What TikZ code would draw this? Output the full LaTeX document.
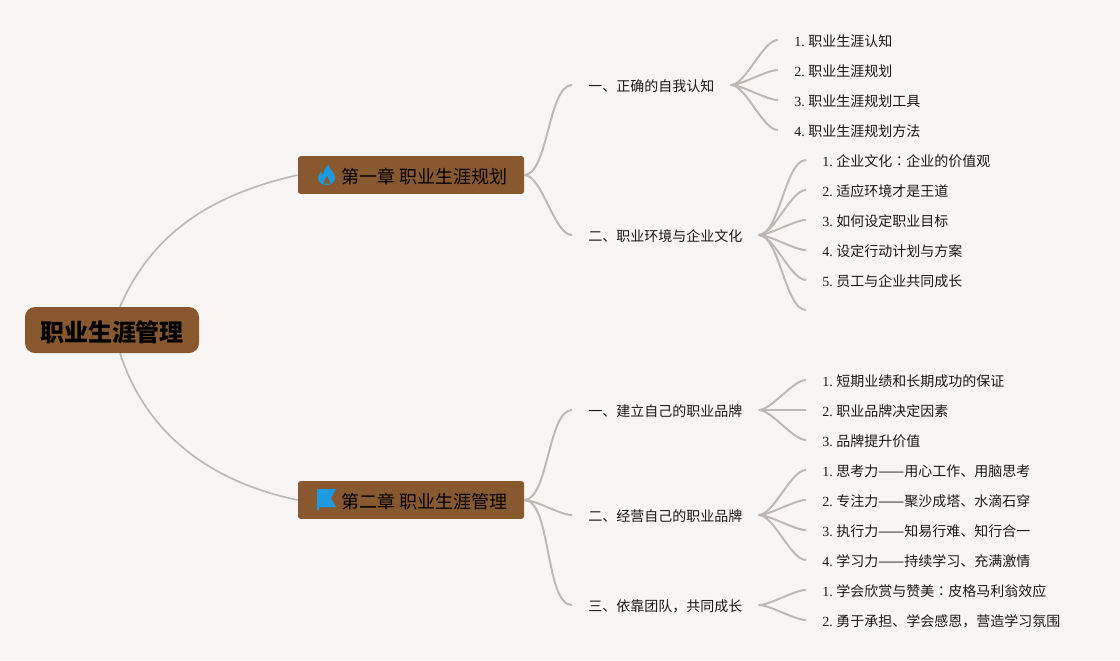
\documentclass[tikz,border=0pt]{standalone}
\usepackage{xcolor}
\usepackage{fontspec}
\setmainfont{Liberation Serif}
\newfontfamily\cjk{Noto Sans CJK SC}
\newfontfamily\cjkjp{Noto Sans CJK JP}
\definecolor{bgpaper}{HTML}{F8F6F4}
\definecolor{barkbrown}{HTML}{88582F}
\definecolor{linkgray}{HTML}{BDB8B3}
\definecolor{iconblue}{HTML}{1C9BE0}
\newcommand{\dashpair}{\makebox[1.86em]{\scalebox{1.12}[1]{——}}}
\frenchspacing

\begin{document}
\begin{tikzpicture}[
            rootnode/.style={rectangle, rounded corners=0.25cm, fill=barkbrown, minimum width=4.35cm,
            minimum height=1.15cm, inner sep=0pt, text height=18pt, text depth=2.2pt,
            font=\cjk\bfseries\fontsize{17.07pt}{20pt}\selectfont},
            chapter/.style={rectangle, rounded corners=0.06cm, fill=barkbrown, minimum width=5.65cm,
            minimum height=0.94cm, inner sep=0pt, text height=14pt, text depth=2.5pt,
            font=\cjk\fontsize{12.8pt}{15pt}\selectfont},
            section/.style={anchor=west, inner xsep=0.4cm, inner ysep=2pt, text=black!90,
            text height=11pt, text depth=2pt, font=\cjk\fontsize{9.96pt}{12pt}\selectfont},
            leaf/.style={anchor=west, inner xsep=0.4cm, inner ysep=2pt, text=black!90,
            text height=11pt, text depth=2pt, font=\fontsize{9.96pt}{12pt}\selectfont},
            link/.style={draw=linkgray, line width=1.4pt, out=0, in=180, looseness=0.6},
            rootlink/.style={draw=linkgray, line width=1.2pt},
        ]

            \fill[bgpaper] (0,0) rectangle (28,-16.5);

            %% Root and chapters
            \node[rootnode] (root) at (2.8,-8.25) {职业生涯管理};
            \node[chapter] (ch1) at (10.275,-4.375) {\hspace{0.675cm}第一章 职业生涯规划};
            \node[chapter] (ch2) at (10.275,-12.5) {\hspace{0.675cm}第二章 职业生涯管理};
            \draw[rootlink] ([xshift=0.2cm]root.north) .. controls (3.9,-5.6) and (5.6,-4.8) .. (ch1.west);
            \draw[rootlink] ([xshift=0.2cm]root.south) .. controls (3.75,-11.125) and (5.625,-12.125) .. (ch2.west);

            %% Icons
            \begin{scope}[shift={(7.95,-4.125)}, x=0.025cm, y=-0.025cm]
                \fill[iconblue] (10.5,0) .. controls (11,4) and (17,8) .. (17,13)
                    .. controls (17,17) and (13,20) .. (8.5,20)
                    .. controls (4,20) and (0,17) .. (0,13)
                    .. controls (0,11) and (2,8) .. (3,6.5)
                    .. controls (4,8) and (4.5,9) .. (5.5,9.5)
                    .. controls (5.5,6) and (7,2) .. (10.5,0) -- cycle;
                \fill[barkbrown] (9,11) .. controls (10,14) and (12.5,15) .. (12,18.5)
                    -- (6,18.5) .. controls (5,16) and (7.5,14) .. (9,11) -- cycle;
            \end{scope}
            \fill[iconblue] (7.925,-12.225) -- (8.4,-12.225) -- (8.275,-12.45) -- (8.4,-12.675)
                -- (7.975,-12.675) -- (7.975,-12.75) -- (7.925,-12.75) -- cycle;

            %% Chapter 1
            \node[section] (s1) at (14.3,-2.125) {一、正确的自我认知};
            \node[section] (s2) at (14.3,-5.875) {二、职业环境与企业文化};
            \foreach \sec in {s1,s2} {
                \draw[link] (ch1.east) to (\sec.west);
            }
            \foreach \row/\txt in {0/职业生涯认知,1/职业生涯规划,2/职业生涯规划工具,3/职业生涯规划方法} {
                \pgfmathtruncatemacro{\num}{\row+1}
                \node[leaf] (a\row) at (19.45,-1-\row*0.75) {\num. {\cjk\txt}};
                \draw[link] (s1.east) to (a\row.west);
            }
            \foreach \row/\txt in {0/企业文化{\cjkjp：}企业的价值观,1/适应环境才是王道,2/如何设定职业目标,3/设定行动计划与方案,4/员工与企业共同成长} {
                \pgfmathtruncatemacro{\num}{\row+1}
                \node[leaf] (b\row) at (20.15,-4-\row*0.75) {\num. {\cjk\txt}};
                \draw[link] (s2.east) to (b\row.west);
            }
            \coordinate (bend) at (20.15,-7.75);
            \draw[link] (s2.east) to (bend);

            %% Chapter 2
            \node[section] (s3) at (14.3,-10.25) {一、建立自己的职业品牌};
            \node[section] (s4) at (14.3,-12.875) {二、经营自己的职业品牌};
            \node[section] (s5) at (14.3,-15.125) {三、依靠团队，共同成长};
            \foreach \sec in {s3,s4,s5} {
                \draw[link] (ch2.east) to (\sec.west);
            }
            \foreach \row/\txt in {0/短期业绩和长期成功的保证,1/职业品牌决定因素,2/品牌提升价值} {
                \pgfmathtruncatemacro{\num}{\row+1}
                \node[leaf] (c\row) at (20.15,-9.5-\row*0.75) {\num. {\cjk\txt}};
                \draw[link] (s3.east) to (c\row.west);
            }
            \foreach \row/\txt in {0/思考力\dashpair 用心工作、用脑思考,1/专注力\dashpair 聚沙成塔、水滴石穿,2/执行力\dashpair 知易行难、知行合一,3/学习力\dashpair 持续学习、充满激情} {
                \pgfmathtruncatemacro{\num}{\row+1}
                \node[leaf] (d\row) at (20.15,-11.75-\row*0.75) {\num. {\cjk\txt}};
                \draw[link] (s4.east) to (d\row.west);
            }
            \foreach \row/\txt in {0/学会欣赏与赞美{\cjkjp：}皮格马利翁效应,1/勇于承担、学会感恩，营造学习氛围} {
                \pgfmathtruncatemacro{\num}{\row+1}
                \node[leaf] (e\row) at (20.15,-14.75-\row*0.75) {\num. {\cjk\txt}};
                \draw[link] (s5.east) to (e\row.west);
            }

        \end{tikzpicture}
\end{document}
